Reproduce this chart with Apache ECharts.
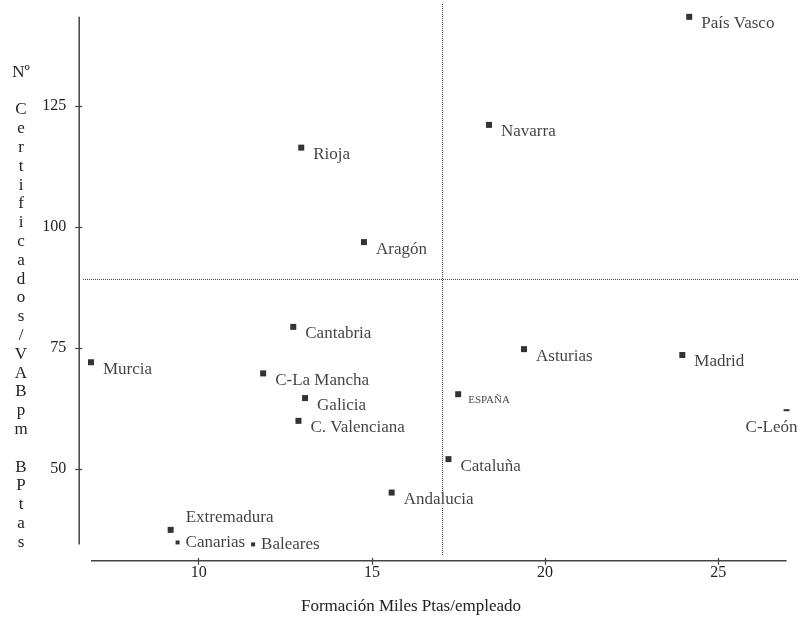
<!DOCTYPE html>
<html>
<head>
<meta charset="utf-8">
<script src="https://cdn.jsdelivr.net/npm/echarts@6/dist/echarts.min.js"></script>
<style>html,body{margin:0;padding:0;background:#fff}#c{width:800px;height:620px}</style>
</head>
<body>
<div id="c"></div>
<script>
const regions = ['País Vasco','Navarra','Rioja','Aragón','Cantabria','C-La Mancha','Galicia','C. Valenciana','Murcia','Asturias','ESPAÑA','Cataluña','Andalucia','Madrid','C-León','Extremadura','Canarias','Baleares'];
const formacion = [24.16,18.38,12.96,14.77,12.73,11.86,13.07,12.88,6.89,19.39,17.49,17.21,15.57,23.96,26.97,9.19,9.39,11.57];
const certificados = [143.4,121.1,116.4,96.9,79.4,69.8,64.7,60.0,72.1,74.8,65.5,52.1,45.2,73.6,62.2,37.5,34.9,34.5];
const xTicks = [10,15,20,25];
const yTicks = [50,75,100,125];
const refX = 17.04;
const refY = 89.2;
const xTitle = 'Formación Miles Ptas/empleado';
const yTitle = 'Nº\n\nC\ne\nr\nt\ni\nf\ni\nc\na\nd\no\ns\n/\nV\nA\nB\np\nm\n\nB\nP\nt\na\ns';

// axis ranges (layout)
const X_MIN = 6.55, X_MAX = 27.3, Y_MIN = 31.1, Y_MAX = 145;
const FONT = 'Liberation Serif';

const labelTweaks = {
  'Extremadura': {offset:[3,-12]},
  'Canarias': {distance:5, offset:[0,0]},
  'Baleares': {distance:5, offset:[0,0]},
  'ESPAÑA': {fontSize:11, distance:6, offset:[0,6]},
  'C-León': {offset:[-53,17]}
};
const sizeTweaks = {'Canarias':4, 'Baleares':4, 'C-León':[6,2]};

const pts = regions.map((n,i)=>{
  const item = {name:n, value:[formacion[i], certificados[i]]};
  if (sizeTweaks[n] !== undefined) item.symbolSize = sizeTweaks[n];
  if (labelTweaks[n]) item.label = labelTweaks[n];
  return item;
});

const xMinD = Math.min(...formacion), xMaxD = Math.max(...formacion);
const yMinD = Math.min(...certificados), yMaxD = Math.max(...certificados);

const axisColor = '#444';
const chart = echarts.init(document.getElementById('c'));
const lineBase = {type:'line', symbol:'none', clip:false, silent:true, animation:false};
chart.setOption({
  animation:false,
  backgroundColor:'#fff',
  grid:{left:79.2, right:2, top:9.1, bottom:59.15},
  xAxis:[
    {type:'value', min:X_MIN, max:X_MAX, splitLine:{show:false},
     axisLine:{show:false, onZero:false},
     axisTick:{show:true, length:4, customValues:xTicks, lineStyle:{color:axisColor, width:1.2}},
     axisLabel:{customValues:xTicks, margin:4, color:'#222', fontFamily:FONT, fontSize:16}},
    {type:'value', min:X_MIN, max:X_MAX, position:'bottom', splitLine:{show:false},
     axisLine:{show:false, onZero:false},
     axisTick:{show:true, inside:true, length:3, customValues:xTicks, lineStyle:{color:axisColor, width:1.2}},
     axisLabel:{show:false}}
  ],
  yAxis:[
    {type:'value', min:Y_MIN, max:Y_MAX, splitLine:{show:false},
     axisLine:{show:false, onZero:false},
     axisTick:{show:true, length:4, customValues:yTicks, lineStyle:{color:axisColor, width:1.2}},
     axisLabel:{customValues:yTicks, margin:13, color:'#222', fontFamily:FONT, fontSize:16}},
    {type:'value', min:Y_MIN, max:Y_MAX, position:'left', splitLine:{show:false},
     axisLine:{show:false, onZero:false},
     axisTick:{show:true, inside:true, length:3, customValues:yTicks, lineStyle:{color:axisColor, width:1.2}},
     axisLabel:{show:false}}
  ],
  graphic:[
    {type:'text', x:21, y:63, style:{text:yTitle, align:'center', verticalAlign:'top', lineHeight:18.8, font:'17px "Liberation Serif"', fill:'#222'}},
    {type:'text', x:411, y:607, style:{text:xTitle, align:'center', verticalAlign:'middle', font:'17px "Liberation Serif"', fill:'#222'}}
  ],
  series:[
    Object.assign({}, lineBase, {z:1, data:[[X_MIN, yMinD],[X_MIN, yMaxD]], lineStyle:{color:axisColor, width:1.5}}),
    Object.assign({}, lineBase, {z:1, data:[[xMinD, Y_MIN],[xMaxD, Y_MIN]], lineStyle:{color:axisColor, width:1.5}}),
    Object.assign({}, lineBase, {z:1, data:[[refX, 32.3],[refX, 146.3]], lineStyle:{color:'#333', width:1, type:[1,1]}}),
    Object.assign({}, lineBase, {z:1, data:[[6.66, refY],[27.4, refY]], lineStyle:{color:'#333', width:1, type:[1,1]}}),
    {type:'scatter', z:5, symbol:'rect', symbolSize:6, itemStyle:{color:'#000'}, data:pts,
     label:{show:true, position:'right', distance:8, offset:[0,7], formatter:'{b}',
            color:'#111', fontFamily:FONT, fontSize:17, backgroundColor:'#fff', padding:[0,1]},
     emphasis:{disabled:true}}
  ]
});
</script>
</body>
</html>
